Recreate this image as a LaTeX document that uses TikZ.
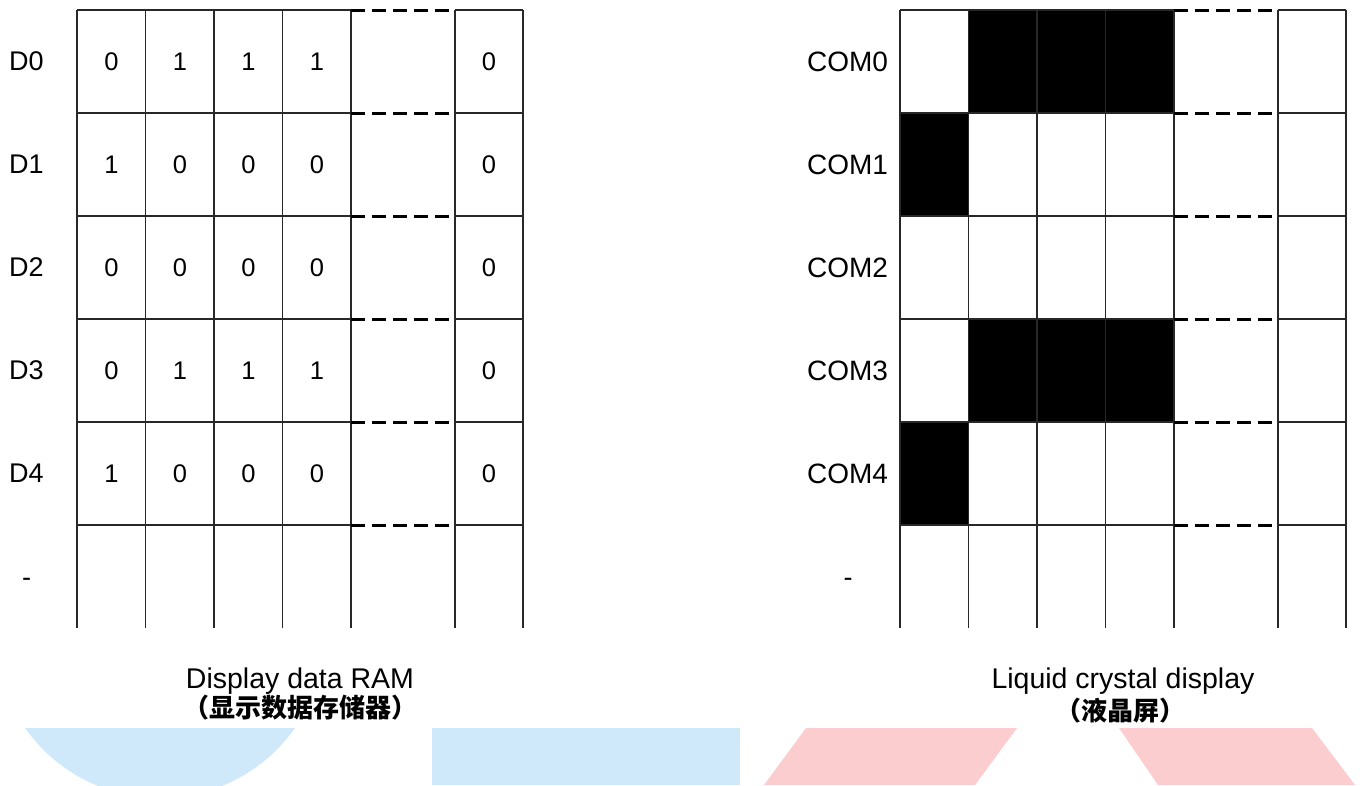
\documentclass[tikz,border=0pt]{standalone}
\usepackage{fontspec}
\setmainfont{Liberation Sans}
\newfontfamily\cjk{Noto Sans CJK SC}
\definecolor{lblue}{RGB}{207,232,250}
\definecolor{lpink}{RGB}{251,205,207}
\definecolor{gline}{RGB}{40,40,40}
\tikzset{
  gridline/.style={draw=gline,line width=1.5pt},
  dashline/.style={draw=black,line width=3pt,dash pattern=on 14pt off 7pt},
  lbl/.style={inner sep=0pt,font=\fontsize{27}{32}\selectfont},
  comlbl/.style={inner sep=0pt,font=\fontsize{28}{32}\selectfont},
  val/.style={inner sep=0pt,font=\fontsize{25.5}{30}\selectfont},
  captxt/.style={inner sep=0pt,font=\fontsize{28.5}{34}\selectfont},
  capcn/.style={inner sep=0pt,font=\cjk\bfseries\fontsize{26}{30}\selectfont},
}
\begin{document}
\begin{tikzpicture}[x=1pt,y=-1pt]
\useasboundingbox (0,0) rectangle (1362,785);
% bottom decorative shapes
\begin{scope}
  \clip (0,728) rectangle (1362,785);
  \fill[lblue] (160,633) circle (165);
\end{scope}
\fill[lblue] (432,728) rectangle (740,785);
\fill[lpink] (806,728) -- (1017,728) -- (975,785) -- (764,785) -- cycle;
\fill[lpink] (1119,728) -- (1312,728) -- (1355,785) -- (1158,785) -- cycle;
% black cells of the LCD
\fill[black] (968.5,10) rectangle (1174,113);
\fill[black] (900,113) rectangle (968.5,216);
\fill[black] (968.5,319) rectangle (1174,422);
\fill[black] (900,422) rectangle (968.5,525);
% grids
\foreach \o in {0,823}{
  \foreach \x in {77,145.5,214,282.5,351,455,523}
    \draw[gridline] (\x+\o,10) -- (\x+\o,628);
  \foreach \y in {10,113,216,319,422,525}{
    \draw[gridline] (77+\o,\y) -- (351+\o,\y);
    \draw[dashline] (351+\o,\y) -- (451+\o,\y);
    \draw[gridline] (455+\o,\y) -- (523+\o,\y);
  }
}
% row labels
\foreach \i/\y in {0/61.5,1/164.5,2/267.5,3/370.5,4/473.5}{
  \node[lbl] (d\i) at (26.5,\y) {D\i};
  \node[comlbl] (c\i) at (847.5,\y) {COM\i};
}
\node[lbl,anchor=base] (dm) at (26.5,586) {-};
\node[lbl,anchor=base] (cm) at (848,586) {-};
% values
\foreach \r/\y/\a/\b/\c/\d/\e in {0/61.5/0/1/1/1/0,1/164.5/1/0/0/0/0,2/267.5/0/0/0/0/0,3/370.5/0/1/1/1/0,4/473.5/1/0/0/0/0}{
  \node[val] (v\r a) at (111.5,\y) {\a};
  \node[val] (v\r b) at (180,\y) {\b};
  \node[val] (v\r c) at (248.5,\y) {\c};
  \node[val] (v\r d) at (317,\y) {\d};
  \node[val] (v\r e) at (489,\y) {\e};
}
% captions
\node[captxt,anchor=base] (ram) at (300,688) {Display data RAM};
\node[capcn] (ramcn) at (300,708) {（显示数据存储器）};
\node[captxt,anchor=base] (lcd) at (1123,688) {Liquid crystal display};
\node[capcn] (lcdcn) at (1120,711) {（液晶屏）};
\end{tikzpicture}
\end{document}
